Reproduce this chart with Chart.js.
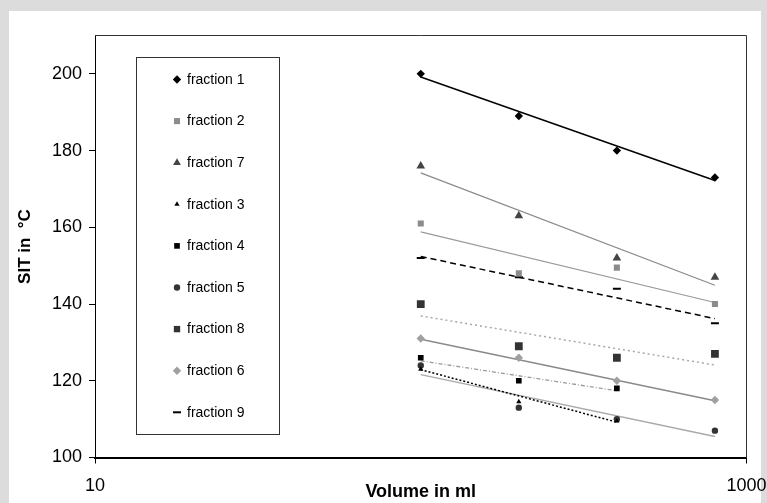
<!DOCTYPE html>
<html>
<head>
<meta charset="utf-8">
<script src="https://cdn.jsdelivr.net/npm/chart.js@4.4.1/dist/chart.umd.min.js"></script>
<style>
  html, body { margin: 0; padding: 0; background: #dcdcdc; }
  canvas { display: block; }
</style>
</head>
<body>
<canvas id="c" width="767" height="503" style="width:767px;height:503px"></canvas>
<script>
// ---- data ----
const volumes = [100, 200, 400, 800];
const fractionNames = ['fraction 1','fraction 2','fraction 7','fraction 3','fraction 4','fraction 5','fraction 8','fraction 6','fraction 9'];
const fraction1 = [200, 189, 180, 173];
const fraction2 = [161, 148, 149.5, 140];
const fraction7 = [176, 163, 152, 147];
const fraction3 = [123, 114.5, 109.5];
const fraction4 = [126, 120, 118];
const fraction5 = [124, 113, 110, 107];
const fraction8 = [140, 129, 126, 127];
const fraction6 = [131, 126, 120, 115];
const fraction9 = [152, 147, 144, 135];

// trend line end points
const trendLong = [100, 800];
const trendShort = [100, 400];
const trend1 = [199.2, 172.2];
const trend7 = [174.2, 144.9];
const trend2 = [158.8, 140.4];
const trend9 = [152.4, 136.2];
const trend8 = [136.9, 124.1];
const trend6 = [130.8, 114.8];
const trend4 = [125.2, 117.4];
const trend3 = [122.9, 109.2];
const trend5 = [121.6, 105.5];

const xTickValues = [10, 1000];
const yTickValues = [100, 120, 140, 160, 180, 200];

const FONT = "'Liberation Sans', Arial, Helvetica, sans-serif";

function pts(xs, ys) { return ys.map((y, i) => ({ x: xs[i], y: y })); }

const markerSets = [
  { label: fractionNames[0], values: fraction1, style: 'rectRot', color: '#000000', r: 4.2 },
  { label: fractionNames[1], values: fraction2, style: 'rect', color: '#8c8c8c', r: 4.3 },
  { label: fractionNames[2], values: fraction7, style: 'triangle', color: '#444444', r: 5 },
  { label: fractionNames[3], values: fraction3, style: 'triangle', color: '#000000', r: 3 },
  { label: fractionNames[4], values: fraction4, style: 'rect', color: '#000000', r: 4 },
  { label: fractionNames[5], values: fraction5, style: 'circle', color: '#333333', r: 3.2 },
  { label: fractionNames[6], values: fraction8, style: 'rect', color: '#333333', r: 5.5 },
  { label: fractionNames[7], values: fraction6, style: 'rectRot', color: '#a0a0a0', r: 4.2 },
  { label: fractionNames[8], values: fraction9, style: 'line', color: '#000000', r: 4 }
];

const trendSets = [
  { xs: trendLong, ys: trend1, color: '#000000', w: 1.5, dash: [] },
  { xs: trendLong, ys: trend7, color: '#8a8a8a', w: 1.2, dash: [] },
  { xs: trendLong, ys: trend2, color: '#9a9a9a', w: 1.2, dash: [] },
  { xs: trendLong, ys: trend9, color: '#000000', w: 1.5, dash: [6, 4] },
  { xs: trendLong, ys: trend8, color: '#a8a8a8', w: 1.5, dash: [2, 3] },
  { xs: trendLong, ys: trend6, color: '#8a8a8a', w: 1.5, dash: [] },
  { xs: trendShort, ys: trend4, color: '#9a9a9a', w: 1.3, dash: [4, 2, 1, 2] },
  { xs: trendShort, ys: trend3, color: '#000000', w: 1.5, dash: [2, 2] },
  { xs: trendLong, ys: trend5, color: '#aaaaaa', w: 1.5, dash: [] }
];

const datasets = [];
markerSets.forEach(m => {
  datasets.push({
    label: m.label,
    data: pts(volumes, m.values),
    pointStyle: m.style,
    pointRadius: m.r,
    pointHoverRadius: m.r,
    backgroundColor: m.color,
    borderColor: m.color,
    pointBorderWidth: m.style === 'line' ? 2 : 0,
    showLine: false,
    isMarker: true
  });
});
trendSets.forEach(t => {
  datasets.push({
    label: '',
    data: pts(t.xs, t.ys),
    showLine: true,
    pointRadius: 0,
    borderColor: t.color,
    borderWidth: t.w,
    borderDash: t.dash,
    fill: false,
    isMarker: false
  });
});

const framePlugin = {
  id: 'frame',
  beforeDraw(chart) {
    const ctx = chart.ctx;
    ctx.save();
    ctx.fillStyle = '#dcdcdc';
    ctx.fillRect(0, 0, chart.width, chart.height);
    ctx.fillStyle = '#ffffff';
    ctx.fillRect(9, 11, 752, chart.height - 11);
    ctx.restore();
  },
  afterDatasetsDraw(chart) {
    const ctx = chart.ctx;
    const a = chart.chartArea;
    ctx.save();
    // top & right border of plot
    ctx.strokeStyle = '#333333';
    ctx.lineWidth = 1;
    ctx.beginPath();
    ctx.moveTo(a.left, a.top);
    ctx.lineTo(a.right, a.top);
    ctx.lineTo(a.right, a.bottom);
    ctx.stroke();

    // legend box
    const bx = 136.5, by = 57.5, bw = 143, bh = 377;
    ctx.fillStyle = '#ffffff';
    ctx.fillRect(bx, by, bw, bh);
    ctx.strokeStyle = '#333333';
    ctx.lineWidth = 1;
    ctx.strokeRect(bx, by, bw, bh);
    ctx.restore();

    let idx = 0;
    chart.data.datasets.forEach(ds => {
      if (!ds.isMarker) return;
      const y = 79.5 + idx * 41.6;
      ctx.save();
      ctx.fillStyle = ds.backgroundColor;
      ctx.strokeStyle = ds.borderColor;
      ctx.lineWidth = ds.pointBorderWidth || 0.0001;
      Chart.helpers.drawPoint(ctx, {
        pointStyle: ds.pointStyle,
        radius: Math.min(ds.pointRadius, 4.5),
        borderWidth: ds.pointBorderWidth
      }, 177, y);
      ctx.font = '14px ' + FONT;
      ctx.fillStyle = '#000000';
      ctx.textBaseline = 'middle';
      ctx.textAlign = 'left';
      ctx.fillText(ds.label, 187, y + 0.5);
      ctx.restore();
      idx++;
    });
  }
};

new Chart(document.getElementById('c'), {
  type: 'scatter',
  data: { datasets: datasets },
  plugins: [framePlugin],
  options: {
    responsive: false,
    animation: false,
    events: [],
    layout: { padding: { top: 35.5, right: 20.5, left: 0, bottom: 0 } },
    plugins: { legend: { display: false }, tooltip: { enabled: false } },
    scales: {
      x: {
        type: 'logarithmic',
        min: 10,
        max: 1000,
        afterBuildTicks: s => { s.ticks = xTickValues.map(v => ({ value: v })); },
        afterFit: s => { s.height = 45.5; s.paddingLeft = 0; s.paddingRight = 0; },
        grid: { drawOnChartArea: false, drawTicks: true, tickLength: 6, color: '#000000', tickWidth: 1 },
        border: { display: true, color: '#000000', width: 2 },
        ticks: {
          font: { family: FONT, size: 18 },
          color: '#000000',
          padding: 12,
          maxRotation: 0,
          autoSkip: false,
          callback: v => String(v)
        },
        title: {
          display: true,
          text: 'Volume in ml',
          font: { family: FONT, size: 18, weight: 'bold' },
          color: '#000000',
          padding: { top: 0, bottom: 0 }
        }
      },
      y: {
        min: 100,
        max: 210,
        afterBuildTicks: s => { s.ticks = yTickValues.map(v => ({ value: v })); },
        afterFit: s => { s.width = 95; s.paddingTop = 0; s.paddingBottom = 0; },
        grid: { drawOnChartArea: false, drawTicks: true, tickLength: 6, color: '#000000', tickWidth: 1 },
        border: { display: true, color: '#000000', width: 1 },
        ticks: {
          font: { family: FONT, size: 18 },
          color: '#000000',
          padding: 7,
          autoSkip: false
        },
        title: {
          display: true,
          text: 'SIT in  °C',
          font: { family: FONT, size: 17, weight: 'bold' },
          color: '#000000',
          padding: { top: 15, bottom: 0 }
        }
      }
    }
  }
});
</script>
</body>
</html>
